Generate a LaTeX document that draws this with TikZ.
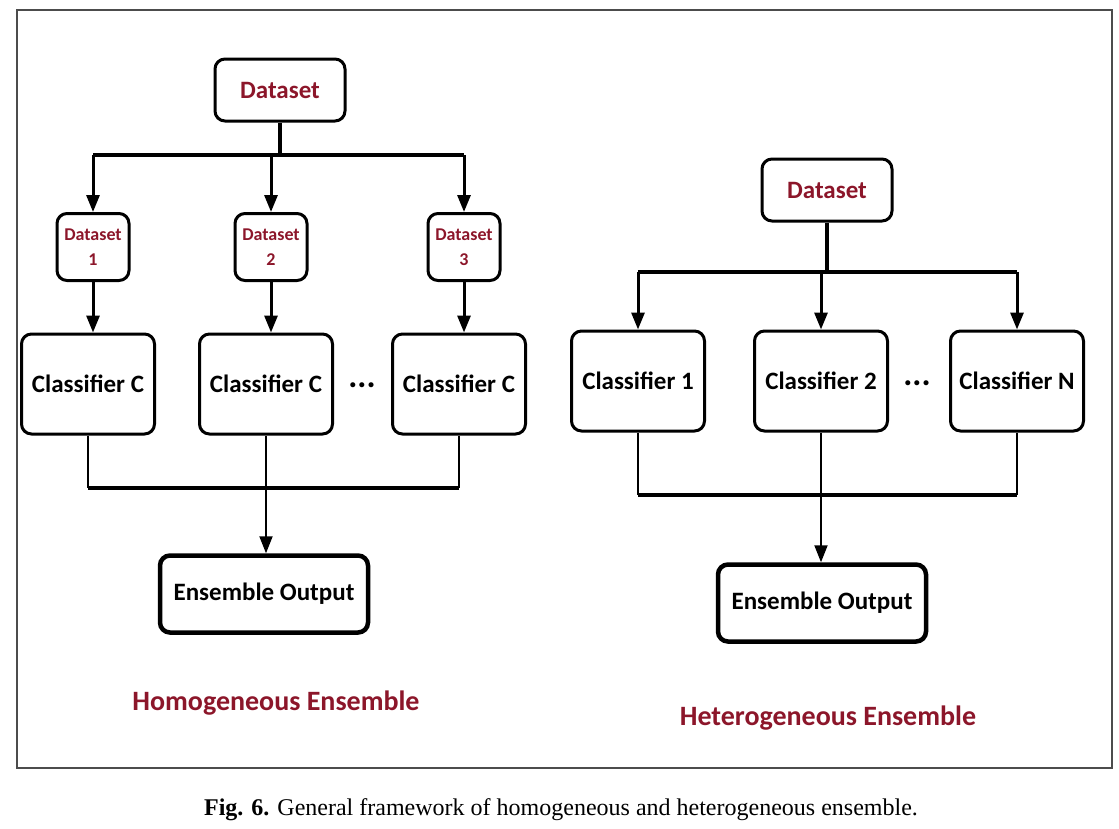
\documentclass[tikz,border=0pt]{standalone}
\usepackage{fontspec}
\setmainfont{Liberation Serif}
\newfontfamily\boxfont{Carlito}
\usetikzlibrary{positioning,calc,arrows.meta}
\definecolor{darkred}{RGB}{140,22,42}

\begin{document}
\begin{tikzpicture}[x=1pt, y=-1pt,
>={Triangle[length=17pt,width=13pt]},
box/.style={draw, rounded corners=10pt, line width=3pt, inner sep=0pt, align=center, font=\boxfont\bfseries\fontsize{25}{28}\selectfont},
topset/.style={box, minimum width=130pt, minimum height=62pt, text=darkred},
subset/.style={box, minimum width=72pt, minimum height=67pt, text=darkred, font=\boxfont\bfseries\fontsize{18}{25}\selectfont},
clf/.style={box, minimum width=133pt, minimum height=100pt},
outbox/.style={box, line width=4.5pt, minimum width=208pt, minimum height=77pt},
title/.style={text=darkred, font=\boxfont\bfseries\fontsize{28}{32}\selectfont},
dots/.style={font=\boxfont\bfseries\fontsize{34}{36}\selectfont},
bar/.style={line width=4pt},
link/.style={line width=3pt},
thinlink/.style={line width=2pt}]

\useasboundingbox (0,0) rectangle (1119,828);
\draw[line width=1.5pt, black!70] (17,10) rectangle (1112,768);

% homogeneous ensemble
\node[topset] (ds) at (280,90) {Dataset};
\node[subset] (ds1) at (93,247) {Dataset\\1};
\node[subset] (ds2) at (271,247) {Dataset\\2};
\node[subset] (ds3) at (464,247) {Dataset\\3};
\node[clf] (c1) at (88,384) {Classifier C};
\node[clf] (c2) at (266,384) {Classifier C};
\node[clf] (c3) at (459,384) {Classifier C};
\node[dots] (ldots) at (362,385) {...};
\node[outbox] (out) at (264,594) {Ensemble Output};
\node[title] (homo) at (276,703) {Homogeneous Ensemble};

\coordinate (split) at (280,155);
\coordinate (join) at (264,488);

\draw[bar] (ds) -- (split);
\draw[bar] (ds1 |- split) -- (ds3 |- split);
\draw[link,->] (ds1 |- split) -- (ds1);
\draw[link,->] (ds2 |- split) -- (ds2);
\draw[link,->] (ds3 |- split) -- (ds3);
\draw[link,->] (ds1) -- (ds1 |- c1.north);
\draw[link,->] (ds2) -- (ds2 |- c2.north);
\draw[link,->] (ds3) -- (ds3 |- c3.north);
\draw[thinlink] (c1) -- (c1 |- join);
\draw[thinlink] (c3) -- (c3 |- join);
\draw[bar] (c1 |- join) -- (c3 |- join);
\draw[thinlink,->] (c2) -- (c2 |- out.north);

% heterogeneous ensemble
\node[topset] (rds) at (827,190) {Dataset};
\node[clf] (r1) at (638,381) {Classifier 1};
\node[clf] (r2) at (821,381) {Classifier 2};
\node[clf] (r3) at (1017,381) {Classifier N};
\node[dots] (rdots) at (917,383) {...};
\node[outbox] (rout) at (822,603) {Ensemble Output};
\node[title] (hetero) at (828,718) {Heterogeneous Ensemble};

\coordinate (rsplit) at (827,272);
\coordinate (rjoin) at (823,495);

\draw[bar] (rds) -- (rsplit);
\draw[bar] (r1 |- rsplit) -- (r3 |- rsplit);
\draw[link,->] (r1 |- rsplit) -- (r1);
\draw[link,->] (r2 |- rsplit) -- (r2);
\draw[link,->] (r3 |- rsplit) -- (r3);
\draw[thinlink] (r1) -- (r1 |- rjoin);
\draw[thinlink] (r3) -- (r3 |- rjoin);
\draw[bar] (r1 |- rjoin) -- (r3 |- rjoin);
\draw[thinlink,->] (r2) -- (r2 |- rout.north);

\node[font=\fontsize{24}{28}\selectfont] (cap) at (561,810) {\textbf{Fig. 6.} General framework of homogeneous and heterogeneous ensemble.};

\end{tikzpicture}
\end{document}
